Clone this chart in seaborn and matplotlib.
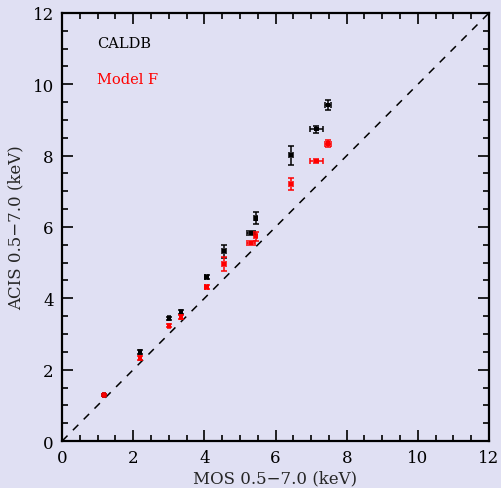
import numpy as np
import pandas as pd
import matplotlib
matplotlib.use("Agg")
import matplotlib.pyplot as plt
import seaborn as sns
from matplotlib.ticker import MultipleLocator

# MOS vs ACIS temperatures (keV)
mos_t = [1.18, 2.19, 3.01, 3.34, 4.06, 4.55, 5.31, 5.44, 6.43, 7.15, 7.47]
mos_err = [0.03, 0.03, 0.03, 0.03, 0.04, 0.05, 0.12, 0.05, 0.05, 0.17, 0.08]
acis_caldb = [1.28, 2.49, 3.44, 3.62, 4.59, 5.32, 5.84, 6.24, 8.01, 8.74, 9.42]
caldb_err = [0.03, 0.05, 0.04, 0.05, 0.06, 0.18, 0.06, 0.17, 0.26, 0.10, 0.13]
acis_modelf = [1.28, 2.32, 3.23, 3.48, 4.31, 4.97, 5.55, 5.74, 7.20, 7.86, 8.34]
modelf_err = [0.03, 0.05, 0.04, 0.05, 0.06, 0.19, 0.06, 0.12, 0.17, 0.06, 0.11]

bg = "#e0e0f3"
sns.set_theme(style="ticks")
plt.rcParams["font.family"] = ["DejaVu Serif"]
plt.rcParams["axes.facecolor"] = bg
plt.rcParams["figure.facecolor"] = bg

df = pd.DataFrame({
    "mos": mos_t * 2,
    "mos_err": mos_err * 2,
    "acis": acis_caldb + acis_modelf,
    "acis_err": caldb_err + modelf_err,
    "cal": ["CALDB"] * len(mos_t) + ["Model F"] * len(mos_t),
})
colors = {"CALDB": "black", "Model F": "red"}

fig = plt.figure(figsize=(5.01, 4.89), dpi=100)
ax = fig.add_axes([0.124, 0.0961, 0.852, 0.8753])

ax.plot([0, 12], [0, 12], ls=(0, (5, 5)), color="black", lw=1.1)

for cal in ["CALDB", "Model F"]:
    d = df[df.cal == cal]
    ax.errorbar(d.mos, d.acis, xerr=d.mos_err, yerr=d.acis_err, fmt="none",
                ecolor=colors[cal], elinewidth=1.1, capsize=2.2, capthick=1.1)
sns.scatterplot(data=df, x="mos", y="acis", hue="cal", palette=colors,
                marker="s", s=9, edgecolor="none", legend=False, ax=ax)

ax.text(0.98, 11.15, "CALDB", color="black", fontsize=10.5, va="center")
ax.text(0.98, 10.15, "Model F", color="red", fontsize=10.5, va="center")

ax.set_xlim(0, 12)
ax.set_ylim(0, 12)
ax.xaxis.set_major_locator(MultipleLocator(2))
ax.yaxis.set_major_locator(MultipleLocator(2))
ax.xaxis.set_minor_locator(MultipleLocator(0.5))
ax.yaxis.set_minor_locator(MultipleLocator(0.5))
ax.tick_params(which="both", direction="in", top=True, right=True,
               labelsize=12, width=1.2, colors="black")
ax.tick_params(which="major", length=8, pad=6)
ax.tick_params(which="minor", length=4)
for s in ax.spines.values():
    s.set_linewidth(1.6)
    s.set_color("black")

ax.set_xlabel("MOS 0.5\u22127.0 (keV)", fontsize=12, labelpad=2)
ax.set_ylabel("ACIS 0.5\u22127.0 (keV)", fontsize=12, labelpad=6)

fig.savefig("out.png", dpi=100, facecolor=bg)
